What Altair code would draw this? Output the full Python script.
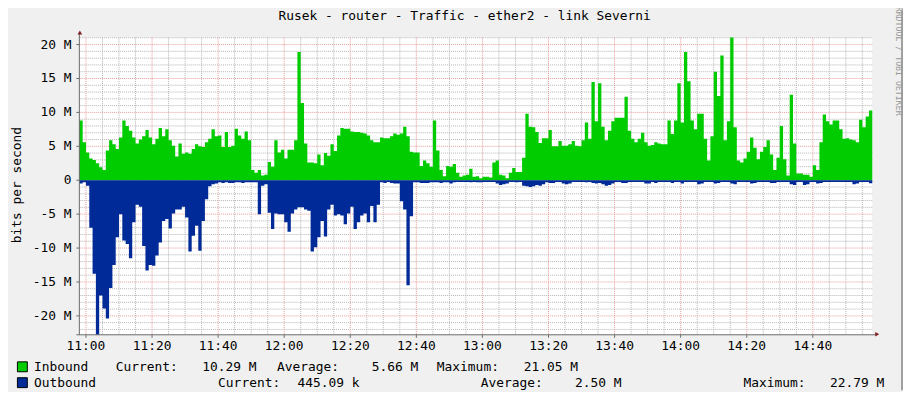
import altair as alt
import pandas as pd

TITLE = "Rusek - router - Traffic - ether2 - link Severni"
Y_TITLE = "bits per second"
WATERMARK = "RRDTOOL / TOBI OETIKER"

# 1-minute samples starting 10:58, values in Mbit/s
inbound = [
    8.8, 5.6, 4.1, 3.2, 3.0, 2.5, 1.9, 1.5, 4.4, 5.9,
    5.3, 4.6, 6.3, 8.8, 8.0, 7.3, 6.3, 5.4, 6.0, 6.5,
    7.4, 6.3, 5.3, 6.1, 7.7, 6.5, 7.5, 5.9, 5.1, 3.5,
    5.4, 3.9, 4.1, 3.9, 4.6, 5.3, 5.0, 4.9, 5.6, 6.1,
    7.5, 6.5, 6.6, 4.9, 7.1, 4.9, 5.1, 7.6, 6.6, 6.1,
    7.2, 5.9, 1.5, 1.1, 1.5, 0.7, 0.8, 2.7, 2.0, 5.9,
    4.1, 4.5, 3.2, 4.5, 4.5, 5.9, 18.9, 11.4, 5.4, 2.6,
    2.6, 2.5, 3.8, 2.2, 4.0, 3.6, 5.3, 4.3, 6.6, 7.7,
    7.6, 7.6, 7.2, 7.1, 7.1, 7.0, 6.9, 6.6, 5.9, 5.6,
    5.6, 6.3, 6.2, 6.2, 6.5, 6.9, 6.7, 6.9, 7.9, 6.5,
    4.2, 4.1, 4.1, 2.1, 2.9, 2.5, 2.0, 8.8, 4.4, 1.5,
    0.6, 2.1, 2.0, 2.4, 1.1, 0.5, 0.7, 0.8, 1.7, 0.5,
    0.6, 0.3, 0.5, 0.5, 0.4, 2.6, 2.9, 0.8, 0.7, 0.3,
    1.1, 1.8, 1.2, 1.2, 3.3, 9.8, 7.9, 7.8, 7.1, 5.5,
    6.2, 6.2, 7.4, 5.0, 5.0, 5.8, 5.1, 5.1, 5.3, 5.8,
    5.1, 5.0, 5.9, 8.5, 6.1, 14.5, 8.7, 14.3, 7.9, 5.9,
    7.3, 8.7, 9.2, 9.2, 9.2, 12.3, 7.3, 6.1, 5.6, 6.1,
    7.0, 5.6, 5.1, 5.2, 5.6, 5.4, 5.3, 5.3, 8.8, 6.8,
    8.8, 14.3, 8.5, 18.9, 14.6, 8.8, 7.5, 9.8, 9.8, 6.1,
    2.9, 6.5, 16.0, 12.4, 18.4, 5.9, 8.7, 21.05, 7.8, 2.9,
    2.6, 3.2, 4.2, 6.3, 4.8, 3.1, 4.2, 4.9, 5.9, 3.8,
    1.5, 3.3, 8.0, 3.1, 0.7, 12.6, 5.4, 1.0, 1.0, 0.8,
    0.8, 0.5, 2.2, 1.5, 5.6, 9.7, 8.7, 8.2, 8.8, 8.8,
    7.5, 6.1, 6.2, 6.0, 5.9, 5.6, 8.9, 7.8, 9.4, 10.29,
]

outbound = [
    0.5, 0.3, 0.8, 7.0, 13.8, 22.79, 17.0, 18.9, 20.4, 15.9,
    12.5, 8.4, 5.0, 8.9, 9.4, 11.5, 6.2, 3.6, 3.9, 9.7,
    13.3, 12.5, 12.6, 11.1, 9.2, 6.0, 5.7, 7.1, 4.9, 4.3,
    4.3, 3.9, 5.5, 10.5, 8.2, 6.7, 10.4, 6.0, 2.8, 0.9,
    0.6, 0.5, 0.3, 0.4, 0.3, 0.4, 0.4, 0.3, 0.3, 0.4,
    0.3, 0.3, 0.3, 0.3, 5.0, 0.8, 0.6, 4.8, 7.2, 4.9,
    5.0, 5.0, 6.2, 7.6, 4.9, 4.3, 4.0, 4.0, 4.3, 4.5,
    10.5, 9.9, 8.4, 6.0, 8.3, 4.3, 3.6, 5.2, 5.0, 5.2,
    6.5, 4.9, 3.9, 7.2, 6.2, 5.2, 4.9, 6.2, 3.8, 6.2,
    3.6, 0.3, 0.4, 0.25, 0.4, 0.5, 0.5, 3.1, 4.3, 15.5,
    5.3, 0.3, 0.3, 0.4, 0.4, 0.4, 0.3, 0.3, 0.3, 0.4,
    0.3, 0.3, 0.5, 0.3, 0.25, 0.25, 0.25, 0.25, 0.3, 0.25,
    0.3, 0.3, 0.25, 0.25, 0.25, 0.25, 0.5, 0.7, 0.6, 0.5,
    0.25, 0.25, 0.3, 0.25, 0.8, 0.9, 1.0, 0.9, 0.7, 0.8,
    0.6, 0.3, 0.4, 0.4, 0.25, 0.25, 0.5, 0.6, 0.5, 0.25,
    0.25, 0.25, 0.25, 0.3, 0.25, 0.4, 0.5, 0.4, 0.6, 0.8,
    0.7, 0.5, 0.25, 0.25, 0.4, 0.4, 0.25, 0.25, 0.25, 0.25,
    0.25, 0.5, 0.5, 0.25, 0.4, 0.25, 0.25, 0.25, 0.25, 0.4,
    0.25, 0.25, 0.5, 0.25, 0.25, 0.25, 0.25, 0.6, 0.5, 0.25,
    0.25, 0.25, 0.5, 0.4, 0.25, 0.25, 0.25, 0.5, 0.6, 0.25,
    0.25, 0.25, 0.25, 0.5, 0.4, 0.25, 0.25, 0.25, 0.25, 0.4,
    0.4, 0.25, 0.25, 0.25, 0.25, 0.6, 0.7, 0.25, 0.25, 0.7,
    0.6, 0.25, 0.25, 0.5, 0.4, 0.25, 0.25, 0.25, 0.25, 0.25,
    0.25, 0.25, 0.25, 0.25, 0.6, 0.5, 0.25, 0.25, 0.25, 0.45,
]

y_domain = [-22.79, 21.05]
y_ticks = [-20, -15, -10, -5, 0, 5, 10, 15, 20]
y_tick_labels = ["-20 M", "-15 M", "-10 M", "-5 M", "0", "5 M", "10 M", "15 M", "20 M"]
x_ticks = [2, 22, 42, 62, 82, 102, 122, 142, 162, 182, 202, 222]
x_tick_labels = ["11:00", "11:20", "11:40", "12:00", "12:20", "12:40",
                 "13:00", "13:20", "13:40", "14:00", "14:20", "14:40"]

series_names = ["Inbound", "Outbound"]
series_colors = ["#00CC00", "#002A97"]
stat_names = ["Current:", "Average:", "Maximum:"]
inbound_stats = ["10.29 M", "5.66 M", "21.05 M"]
outbound_stats = ["445.09 k", "2.50 M", "22.79 M"]

MONO = "DejaVu Sans Mono"
W, H = 800, 300
BACK = "#F0F0F0"
MINOR = "#b4b4b4"
MAJOR = "#eb9a9a"
AXIS = "#6a6a6a"
ARROW = "#801f1f"

n = len(inbound)
df = pd.DataFrame({
    "t": list(range(n)) + [n],
    "inb": inbound + [inbound[-1]],
    "outb": [-v for v in outbound] + [-outbound[-1]],
})

xs = alt.Scale(domain=[0, n], nice=False, zero=False)
ys = alt.Scale(domain=y_domain, nice=False, zero=False)

y_minor_df = pd.DataFrame({"v": [v for v in range(-22, 22) if v % 5 != 0]})
y_major_df = pd.DataFrame({"v": y_ticks, "lab": y_tick_labels})
x_minor_df = pd.DataFrame({"m": [m for m in range(2, n, 5) if (m - 2) % 20 != 0]})
x_major_df = pd.DataFrame({"m": x_ticks, "lab": x_tick_labels})

one = pd.DataFrame({"k": [0]})


def grid_y(d, color):
    return alt.Chart(d).mark_rule(color=color, strokeDash=[1, 1], strokeWidth=1).encode(
        y=alt.Y("v:Q", scale=ys, axis=None))


def grid_x(d, color):
    return alt.Chart(d).mark_rule(color=color, strokeDash=[1, 1], strokeWidth=1).encode(
        x=alt.X("m:Q", scale=xs, axis=None))


def text(s, x, y, size=13, color="black", align="left", angle=0):
    return alt.Chart(one).mark_text(
        text=s, font=MONO, fontSize=size, color=color, align=align,
        baseline="alphabetic", angle=angle).encode(x=alt.value(x), y=alt.value(y))


def square(y0, color):
    return alt.Chart(one).mark_rect(fill=color, stroke="black", strokeWidth=1).encode(
        x=alt.value(-62.5), x2=alt.value(-52.5), y=alt.value(y0), y2=alt.value(y0 + 10))


inb_area = alt.Chart(df).mark_area(interpolate="step-after", color=series_colors[0], opacity=1).encode(
    x=alt.X("t:Q", scale=xs, axis=None),
    y=alt.Y("inb:Q", scale=ys, axis=None))
out_area = alt.Chart(df).mark_area(interpolate="step-after", color=series_colors[1], opacity=1).encode(
    x=alt.X("t:Q", scale=xs, axis=None),
    y=alt.Y("outb:Q", scale=ys, axis=None))

# tick labels and tick marks
y_labels = alt.Chart(y_major_df).mark_text(font=MONO, fontSize=13, color="black", align="right",
                                           baseline="middle").encode(
    x=alt.value(-8), y=alt.Y("v:Q", scale=ys, axis=None), text="lab:N")
x_labels = alt.Chart(x_major_df).mark_text(font=MONO, fontSize=13, color="black", align="center",
                                           baseline="alphabetic").encode(
    x=alt.X("m:Q", scale=xs, axis=None), y=alt.value(H + 15.8), text="lab:N")
y_tick_marks = alt.Chart(y_major_df).mark_rule(color=AXIS).encode(
    x=alt.value(-3), x2=alt.value(0), y=alt.Y("v:Q", scale=ys, axis=None))
x_tick_marks = alt.Chart(x_major_df).mark_rule(color=AXIS).encode(
    x=alt.X("m:Q", scale=xs, axis=None), y=alt.value(H), y2=alt.value(H + 3))

axis_y_line = alt.Chart(one).mark_rule(color=AXIS, strokeWidth=1).encode(
    x=alt.value(0), y=alt.value(-4), y2=alt.value(H))
axis_x_line = alt.Chart(one).mark_rule(color=AXIS, strokeWidth=1).encode(
    x=alt.value(-3), x2=alt.value(W + 3), y=alt.value(H))
arrow_up = alt.Chart(one).mark_point(shape="triangle-up", filled=True, size=22, color=ARROW, opacity=1).encode(
    x=alt.value(0.5), y=alt.value(-5))
arrow_right = alt.Chart(one).mark_point(shape="triangle-right", filled=True, size=22, color=ARROW, opacity=1).encode(
    x=alt.value(W + 5), y=alt.value(H - 0.5))
right_border = alt.Chart(one).mark_rule(color="#a0a0a0", strokeWidth=2).encode(
    x=alt.value(830), y=alt.value(-28), y2=alt.value(H + 56))

layers = [
    grid_y(y_minor_df, MINOR), grid_x(x_minor_df, MINOR),
    grid_y(y_major_df, MAJOR), grid_x(x_major_df, MAJOR),
    inb_area, out_area,
    axis_y_line, axis_x_line, y_tick_marks, x_tick_marks, arrow_up, arrow_right,
    y_labels, x_labels, right_border,
    text(TITLE, 201, -17.3),
    text(Y_TITLE, -59, 149, align="center", angle=270),
    text(WATERMARK, 824, -31, size=8.3, color="#9a9a9a", angle=90),
    square(327.3, series_colors[0]), square(343.3, series_colors[1]),
]

row_base = [336.8, 352.8]
label_x = [[36.7, 199.5, 360.7], [140, 405, 670]]
value_x = [[124, 295, 448.3], [220, 500, 757.3]]
stats = [inbound_stats, outbound_stats]
for r in range(2):
    layers.append(text(series_names[r], -45.7, row_base[r]))
    for k in range(3):
        layers.append(text(stat_names[k], label_x[r][k], row_base[r]))
        layers.append(text(stats[r][k], value_x[r][k], row_base[r]))

chart = alt.layer(*layers).properties(
    width=W, height=H,
    autosize=alt.AutoSizeParams(type="none"),
    padding={"left": 72, "top": 28, "right": 31, "bottom": 56},
    background=BACK,
).configure_view(stroke=None, fill="white")

chart.save("out.html", embed_options={"renderer": "svg", "actions": False})
